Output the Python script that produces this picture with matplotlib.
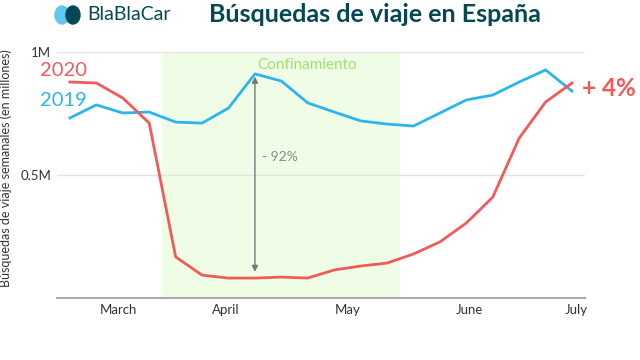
import matplotlib
matplotlib.use("Agg")
import matplotlib.pyplot as plt
from matplotlib.patches import Ellipse

# ---- data (weekly searches, millions) ----
weeks = list(range(20))
searches_2019 = [0.732, 0.785, 0.752, 0.756, 0.715, 0.711, 0.772, 0.911, 0.882, 0.793,
                 0.756, 0.720, 0.707, 0.699, 0.752, 0.805, 0.825, 0.878, 0.927, 0.841]
searches_2020 = [0.878, 0.874, 0.813, 0.711, 0.167, 0.093, 0.081, 0.081, 0.085, 0.081,
                 0.114, 0.130, 0.142, 0.179, 0.228, 0.305, 0.410, 0.650, 0.797, 0.874]
month_pos = [1.85, 5.9, 10.5, 15.1, 19.15]
month_labels = ["March", "April", "May", "June", "July"]
ytick_vals = [0.5, 1.0]
ytick_labels = ["0.5M", "1M"]
lockdown = (3.48, 12.49)

RED = "#f25a5a"
BLUE = "#2cb5ec"
TEAL = "#054752"
plt.rcParams['font.family'] = ['Lato', 'DejaVu Sans']

fig = plt.figure(figsize=(6.4, 3.6), dpi=100)
ax = fig.add_axes([57/640, 1-298/360, (585-57)/640, (298-52)/360])

ax.axvspan(lockdown[0], lockdown[1], ymin=0, ymax=1, color="#effde6", zorder=0, lw=0)
for v in ytick_vals:
    ax.axhline(v, color="#e2e2e2", lw=1, zorder=1)

ax.plot(weeks, searches_2019, color=BLUE, lw=2, zorder=3, solid_joinstyle='round')
ax.plot(weeks, searches_2020, color=RED, lw=2, zorder=4, solid_joinstyle='round')

ax.set_xlim(-0.49, 19.49)
ax.set_ylim(0, 1.0)
ax.set_xticks(month_pos)
ax.set_xticklabels(month_labels, fontsize=9.5, color="#333333")
ax.set_yticks(ytick_vals)
ax.set_yticklabels(ytick_labels, fontsize=9.5, color="#333333")
ax.tick_params(axis='both', length=0, pad=4)
for s in ["top", "right", "left"]:
    ax.spines[s].set_visible(False)
ax.spines["bottom"].set_color("#aaaaaa")
ax.spines["bottom"].set_linewidth(1.5)

# annotations
ax.annotate("", xy=(7, 0.90), xytext=(7, 0.106),
            arrowprops=dict(arrowstyle="<|-|>", color="#777777", lw=1,
                            mutation_scale=9, shrinkA=0, shrinkB=0), zorder=5)
ax.text(7.27, 0.573, "- 92%", fontsize=10, color="#888888", va="center", ha="left")
ax.text(8.97, 0.947, "Confinamiento", fontsize=11, color="#9be36a", va="center", ha="center")

fig.text(40/640, 1-70/360, "2020", fontsize=14.5, color=RED, va="center", ha="left")
fig.text(40/640, 1-100/360, "2019", fontsize=14.5, color=BLUE, va="center", ha="left")
fig.text(582/640, 1-88/360, "+ 4%", fontsize=17.5, color=RED, va="center", ha="left",
         fontweight="bold")

fig.text(6/640, 1-168/360, "Búsquedas de viaje semanales (en millones)", rotation=90,
         fontsize=9, color="#333333", va="center", ha="center")

# title and logo
fig.text(375/640, 1-14/360, "Búsquedas de viaje en España", fontsize=18, color=TEAL,
         fontweight="bold", va="center", ha="center")
fig.text(87/640, 1-14/360, "BlaBlaCar", fontsize=14, color=TEAL, va="center", ha="left")
fig.patches.append(Ellipse((62/640, 1-15/360), 14/640, 18/360, color="#5fc8f0",
                           transform=fig.transFigure, figure=fig))
fig.patches.append(Ellipse((73/640, 1-15/360), 14/640, 18/360, color=TEAL,
                           transform=fig.transFigure, figure=fig))

fig.savefig("out.png", dpi=100)
